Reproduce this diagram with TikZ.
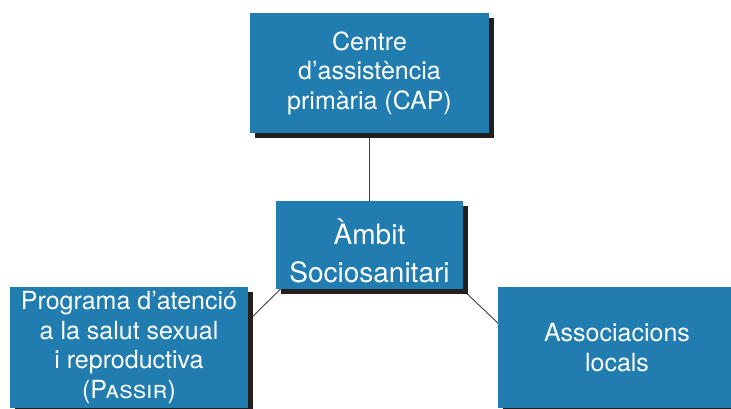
\documentclass[tikz,border=0pt]{standalone}
\usepackage{fontspec}
\setmainfont{TeX Gyre Heros}
\usetikzlibrary{calc,shadows,backgrounds}
\definecolor{boxblue}{RGB}{33,125,175}
\definecolor{boxshade}{RGB}{35,31,32}

\begin{document}
\begin{tikzpicture}[x=1pt,y=-1pt,
    area/.style={fill=boxblue,text=white,align=center,inner sep=0pt,
      font=\fontsize{25}{29.5}\selectfont,
      drop shadow={shadow xshift=5pt,shadow yshift=-5pt,opacity=1,fill=boxshade}},
    link/.style={draw=black!75,line width=0.9pt}]
  \useasboundingbox (0,0) rectangle (731,408);
  \node[area,minimum width=239pt,minimum height=120pt] (cap) at (369.5,73)
    {Centre\\d’assistència\\primària (CAP)};
  \node[area,minimum width=187pt,minimum height=88pt,
    label={[yshift=-6pt,text=white,align=center,font=\fontsize{28}{38}\selectfont]center:Àmbit\\Sociosanitari}]
    (ambit) at (369.5,245) {};
  \node[area,minimum width=238pt,minimum height=121pt] (passir) at (129,347.5)
    {Programa d’atenció\\a la salut sexual\\i reproductiva\\(\textsc{Passir})};
  \node[area,minimum width=238pt,minimum height=121pt] (assoc) at (617,347.5)
    {Associacions\\locals};
  \begin{scope}[on background layer]
    \path[link]
      (cap.south) edge (ambit.north)
      (ambit.north) edge ($(passir.east)+(0,-26.5)$)
      (ambit.north) edge ($(assoc.west)+(0,-24.5)$);
  \end{scope}
\end{tikzpicture}
\end{document}
